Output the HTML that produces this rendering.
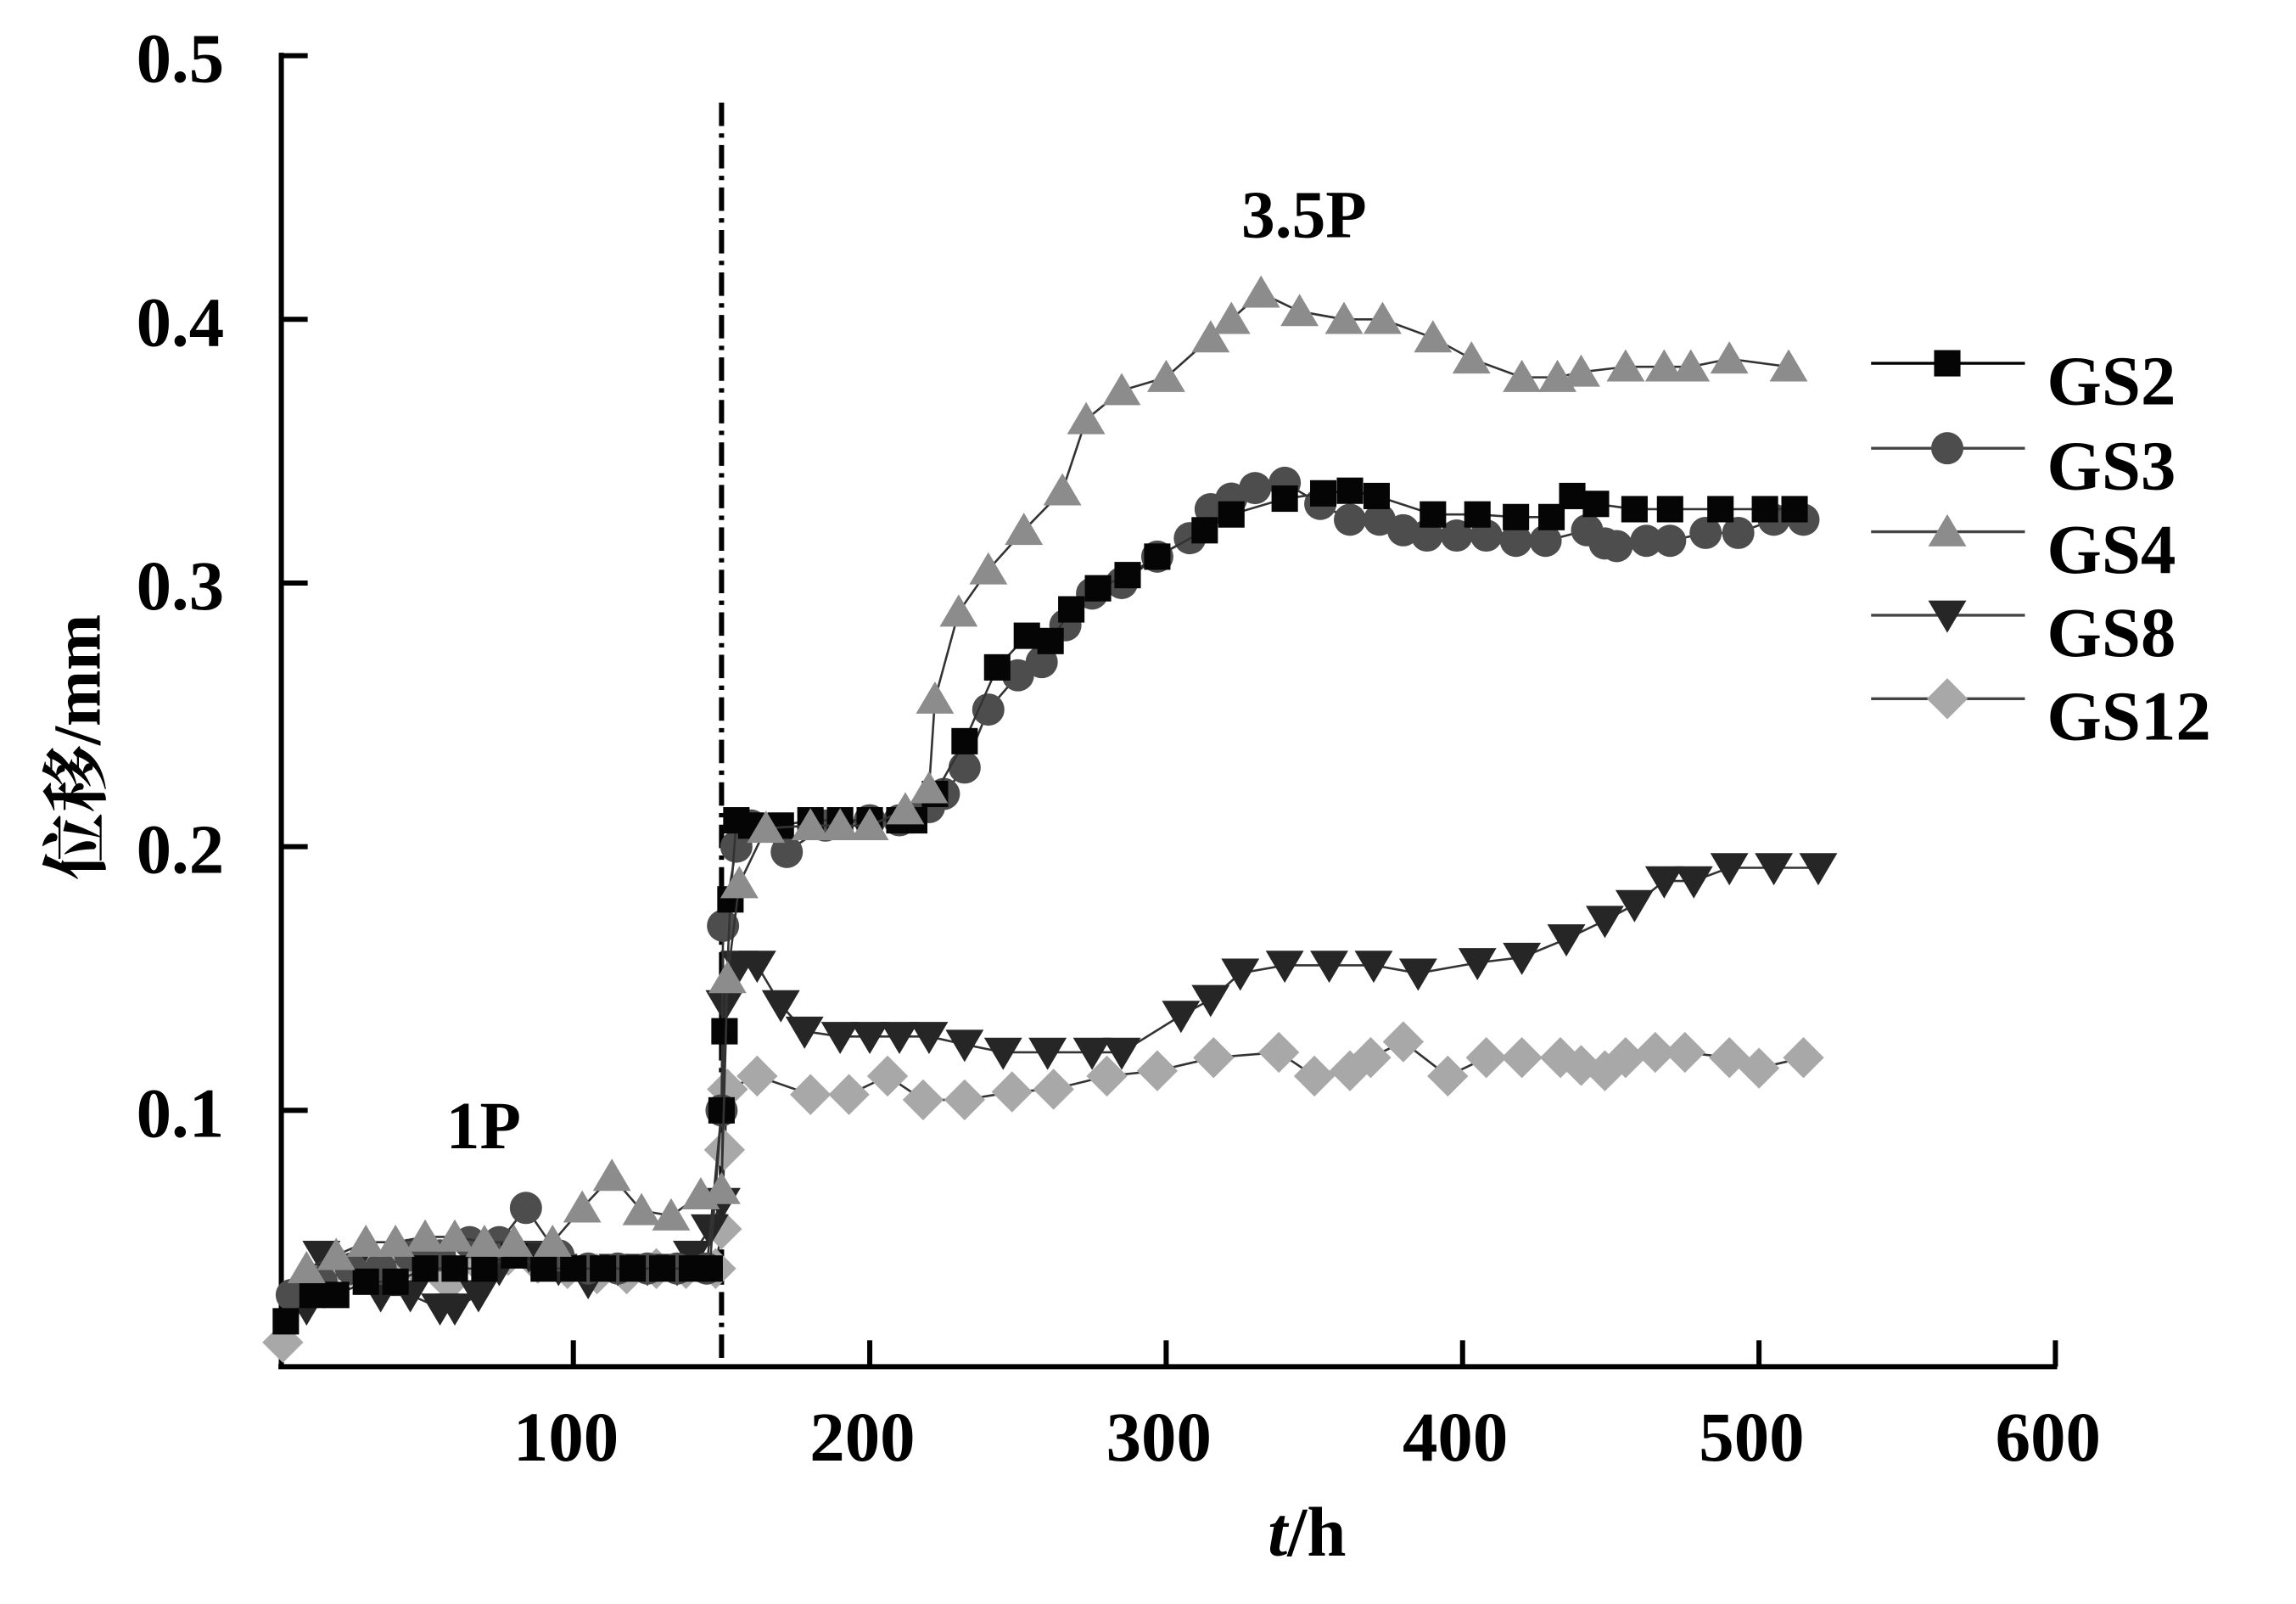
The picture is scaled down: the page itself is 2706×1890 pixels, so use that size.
<!DOCTYPE html>
<html><head><meta charset="utf-8"><style>
html,body{margin:0;padding:0;background:#fff;}
svg{display:block;}
text{font-family:"Liberation Serif","Noto Serif CJK SC",serif;font-weight:bold;fill:#000;}
</style></head><body>
<svg id="chart" width="2706" height="1890" viewBox="0 0 1567 1095" preserveAspectRatio="none" xmlns="http://www.w3.org/2000/svg">
<rect width="1567" height="1095" fill="#fff"/>
<g id="axes"></g>
<g id="series"></g>
<g id="legend"></g>
</svg>
<script>
const xTicks=[100,200,300,400,500,600];
const yTicks=[0.1,0.2,0.3,0.4,0.5];
const yTickLabels=["0.1","0.2","0.3","0.4","0.5"];
const seriesNames=["GS2","GS3","GS4","GS8","GS12"];
const gs2X=[3,12,20,30,40,50,60,70,80,90,100,110,120,130,140,146,150,151,153,155,160,170,180,190,200,210,215,222,232,243,253,261,268,277,287,297,313,322,340,353,362,371,390,405,418,430,437,445,458,470,487,502,512];
const gs2Y=[0.02,0.03,0.03,0.035,0.035,0.04,0.04,0.04,0.045,0.04,0.04,0.04,0.04,0.04,0.04,0.04,0.1,0.13,0.18,0.21,0.208,0.208,0.21,0.21,0.21,0.21,0.21,0.22,0.24,0.268,0.28,0.278,0.29,0.298,0.303,0.31,0.32,0.326,0.332,0.334,0.335,0.333,0.326,0.326,0.325,0.325,0.333,0.33,0.328,0.328,0.328,0.328,0.328];
const gs3X=[5,15,25,35,45,55,65,75,84,95,105,115,125,135,145,150,150.5,155,160,172,185,200,210,220,225,232,240,250,258,266,275,285,297,308,315,322,330,340,352,362,372,380,388,398,408,418,428,442,448,452,462,470,482,493,505,515];
const gs3Y=[0.03,0.035,0.04,0.04,0.045,0.045,0.05,0.05,0.063,0.045,0.04,0.04,0.04,0.04,0.04,0.1,0.17,0.2,0.208,0.198,0.208,0.21,0.21,0.215,0.22,0.23,0.252,0.265,0.27,0.284,0.296,0.3,0.31,0.317,0.328,0.332,0.336,0.338,0.33,0.324,0.324,0.32,0.318,0.318,0.318,0.316,0.316,0.32,0.315,0.314,0.316,0.316,0.319,0.319,0.324,0.324];
const gs4X=[10,20,30,40,50,60,70,80,93,103,113,123,133,143,150,152,156,165,180,190,200,212,220,222,230,240,252,265,273,285,300,315,322,332,345,360,373,390,403,420,432,440,455,468,477,490,510];
const gs4Y=[0.04,0.045,0.05,0.05,0.052,0.052,0.05,0.05,0.05,0.063,0.075,0.062,0.06,0.068,0.07,0.15,0.186,0.207,0.208,0.208,0.208,0.214,0.222,0.256,0.289,0.305,0.32,0.335,0.362,0.373,0.378,0.393,0.4,0.41,0.403,0.4,0.4,0.393,0.385,0.378,0.378,0.38,0.382,0.382,0.382,0.385,0.382];
const gs8X=[10,15,25,35,45,55,60,68,75,85,95,105,115,125,135,140,146,150,151,156,162,170,178,190,200,210,220,232,245,260,275,285,305,315,325,340,355,370,385,405,420,435,448,458,468,478,490,505,520];
const gs8Y=[0.025,0.045,0.04,0.03,0.03,0.025,0.025,0.03,0.04,0.045,0.04,0.035,0.04,0.04,0.04,0.045,0.055,0.065,0.14,0.155,0.155,0.14,0.13,0.128,0.128,0.128,0.128,0.125,0.122,0.122,0.122,0.122,0.136,0.142,0.152,0.155,0.155,0.155,0.152,0.156,0.158,0.165,0.172,0.178,0.187,0.187,0.192,0.192,0.192];
const gs12X=[2,8,18,28,38,48,58,68,78,88,98,108,118,128,138,148,150,151,152,162,180,193,206,218,232,248,262,280,297,316,338,350,362,369,380,395,408,420,433,440,448,455,465,475,490,500,515];
const gs12Y=[0.012,0.03,0.04,0.04,0.04,0.04,0.035,0.042,0.045,0.042,0.04,0.038,0.038,0.04,0.04,0.04,0.055,0.085,0.108,0.113,0.106,0.106,0.113,0.104,0.104,0.107,0.108,0.113,0.115,0.12,0.122,0.113,0.115,0.12,0.126,0.113,0.12,0.12,0.12,0.117,0.115,0.12,0.122,0.122,0.12,0.116,0.12];

const NS="http://www.w3.org/2000/svg";
const X=v=>189+v*2.023;
const Y=v=>938-v*1800;
function mk(tag,attrs,parent){const e=document.createElementNS(NS,tag);for(const k in attrs)e.setAttribute(k,attrs[k]);parent.appendChild(e);return e;}
const axes=document.getElementById('axes');
let e;
e=mk('line',{x1:192,y1:36,x2:192,y2:934,stroke:'#000','stroke-width':3.5},axes);


e=mk('line',{x1:190,y1:933,x2:1404,y2:933,stroke:'#000','stroke-width':3.5},axes);


yTicks.forEach((t,i)=>{
 e=mk('line',{x1:192,y1:Y(t),x2:210,y2:Y(t),stroke:'#000','stroke-width':3.5},axes);
 
 
 e=mk('text',{x:153,y:Y(t)+18,'text-anchor':'end','font-size':48},axes);e.textContent=yTickLabels[i];
 
 
});
xTicks.forEach(t=>{
 e=mk('line',{x1:X(t),y1:915,x2:X(t),y2:933,stroke:'#000','stroke-width':3.5},axes);
 
 
 e=mk('text',{x:X(t)-5,y:997,'text-anchor':'middle','font-size':48},axes);e.textContent=String(t);
 
 
});
e=mk('text',{x:892,y:1062,'text-anchor':'middle','font-size':48},axes);
e.innerHTML='<tspan font-style="italic">t</tspan>/h';


e=mk('text',{x:0,y:0,'text-anchor':'middle','font-size':46,transform:'translate(68,510) rotate(-90)'},axes);
e.textContent='位移/mm';


e=mk('line',{x1:X(150),y1:70,x2:X(150),y2:933,stroke:'#000','stroke-width':3.5,'stroke-dasharray':'16 5 3 5'},axes);


e=mk('text',{x:330,y:784,'text-anchor':'middle','font-size':46},axes);e.textContent='1P';


e=mk('text',{x:890,y:162,'text-anchor':'middle','font-size':46},axes);e.textContent='3.5P';



const fills=['#050505','#4d4d4d','#8c8c8c','#262626','#a8a8a8'];
const shapes=['square','circle','tri','tridown','diamond'];
function marker(shape,cx,cy,fill,parent){
 if(shape==='square')return mk('rect',{x:cx-9,y:cy-9,width:18,height:18,fill:fill},parent);
 if(shape==='circle')return mk('circle',{cx:cx,cy:cy,r:11,fill:fill},parent);
 if(shape==='tri')return mk('polygon',{points:`${cx},${cy-12} ${cx+13},${cy+10} ${cx-13},${cy+10}`,fill:fill},parent);
 if(shape==='tridown')return mk('polygon',{points:`${cx},${cy+12} ${cx+13},${cy-10} ${cx-13},${cy-10}`,fill:fill},parent);
 return mk('polygon',{points:`${cx},${cy-14} ${cx+14},${cy} ${cx},${cy+14} ${cx-14},${cy}`,fill:fill},parent);
}
const allX=[gs2X,gs3X,gs4X,gs8X,gs12X];
const allY=[gs2Y,gs3Y,gs4Y,gs8Y,gs12Y];
const sg=document.getElementById('series');
const order=[4,3,1,0,2];
order.forEach(s=>{
 const g=mk('g',{},sg);
 
 
 const pts=allX[s].map((x,i)=>X(x)+','+Y(allY[s][i])).join(' ');
 e=mk('polyline',{points:pts,fill:'none',stroke:'#333','stroke-width':1.5},g);
 
 
 allX[s].forEach((x,i)=>{
  e=marker(shapes[s],X(x),Y(allY[s][i]),fills[s],g);
  
  
 });
});
const lg=document.getElementById('legend');
const ly=[248,306,363,420,477];
seriesNames.forEach((n,i)=>{
 const g=mk('g',{},lg);
 
 
 mk('line',{x1:1277,y1:ly[i],x2:1382,y2:ly[i],stroke:i===0?'#000':'#444','stroke-width':2},g);
 marker(shapes[i],1329,ly[i],fills[i],g);
 e=mk('text',{x:1397,y:ly[i]+28,'font-size':48},g);e.textContent=n;
 
 
});
</script>
</body></html>
